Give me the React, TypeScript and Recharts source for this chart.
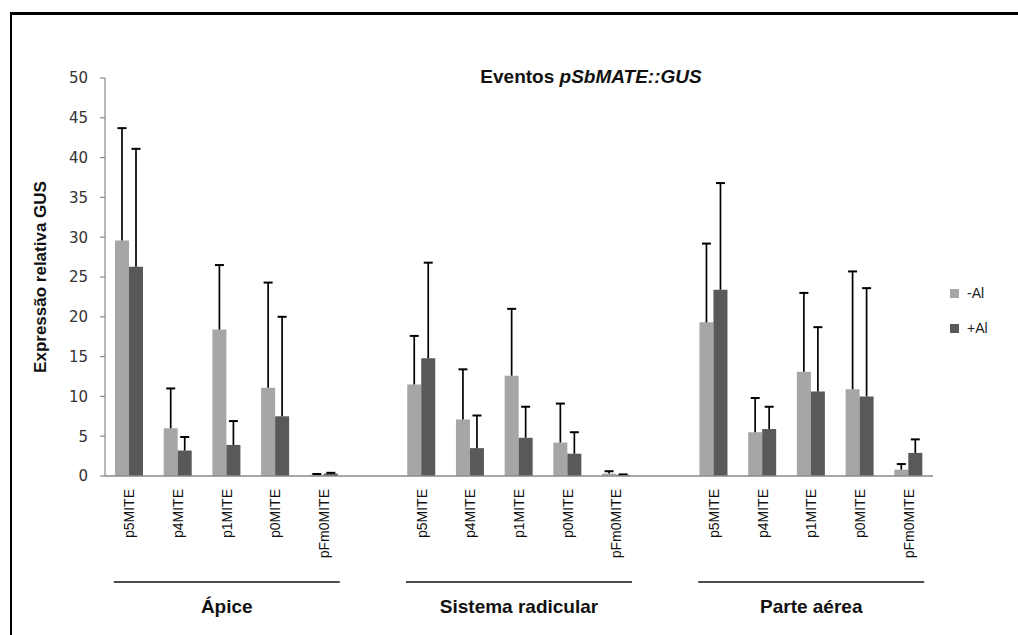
import React from 'react';
import { BarChart, Bar, XAxis, YAxis, Legend } from 'recharts';

// Promoter events and tissues
const events = ['p5MITE', 'p4MITE', 'p1MITE', 'p0MITE', 'pFm0MITE'];
const tissues = ['Ápice', 'Sistema radicular', 'Parte aérea'];

// Relative GUS expression, tissue by tissue (events in the order above)
const minusAl = [29.6, 6.0, 18.4, 11.1, 0.15, 11.5, 7.1, 12.6, 4.2, 0.3, 19.3, 5.5, 13.1, 10.9, 0.8];
const minusAlErr = [14.1, 5.0, 8.1, 13.2, 0.1, 6.1, 6.3, 8.4, 4.9, 0.3, 9.9, 4.3, 9.9, 14.8, 0.7];
const plusAl = [26.3, 3.2, 3.9, 7.5, 0.3, 14.8, 3.5, 4.8, 2.8, 0.15, 23.4, 5.9, 10.6, 10.0, 2.9];
const plusAlErr = [14.8, 1.7, 3.0, 12.5, 0.1, 12.0, 4.1, 3.9, 2.7, 0.05, 13.4, 2.8, 8.1, 13.6, 1.7];

const yTicks = [0, 5, 10, 15, 20, 25, 30, 35, 40, 45, 50];

type Row = {
  key: string;
  label: string;
  groupTitle: string;
  minus: number | null;
  minusErr: number | null;
  plus: number | null;
  plusErr: number | null;
};

// One row per event, with an empty row between tissues
const rows: Row[] = [];
tissues.forEach((tissue, t) => {
  if (t > 0) {
    rows.push({ key: `gap${t}`, label: '', groupTitle: '', minus: null, minusErr: null, plus: null, plusErr: null });
  }
  events.forEach((ev, e) => {
    const i = t * events.length + e;
    rows.push({
      key: `${tissue}|${ev}`,
      label: ev,
      groupTitle: e === 2 ? tissue : '',
      minus: minusAl[i],
      minusErr: minusAlErr[i],
      plus: plusAl[i],
      plusErr: plusAlErr[i],
    });
  });
});

const FONT = 'Liberation Sans, Arial, sans-serif';

// Upper error whisker drawn on top of the stacked error segment
const Whisker = (props: any) => {
  const { x, y, width, height, payload, dataKey } = props;
  if (!payload || payload[dataKey] == null || !isFinite(y) || !isFinite(height)) return null;
  const cx = x + width / 2;
  return (
    <g>
      <line x1={cx} y1={y} x2={cx} y2={y + height} stroke="#000" strokeWidth={1.7} />
      <line x1={cx - 4.5} y1={y} x2={cx + 4.5} y2={y} stroke="#000" strokeWidth={2} />
    </g>
  );
};

const CategoryTick = (props: any) => {
  const { x, y, payload } = props;
  const row = rows[payload.index];
  if (!row || !row.label) return null;
  return (
    <g>
      <text
        x={x}
        y={y + 13}
        transform={`rotate(-90, ${x}, ${y + 13})`}
        textAnchor="end"
        dominantBaseline="central"
        fontFamily={FONT}
        fontSize={14}
        fill="#111"
      >
        {row.label}
      </text>
      {row.groupTitle ? (
        <g>
          <line x1={x - 113} y1={y + 106} x2={x + 113} y2={y + 106} stroke="#111" strokeWidth={1.5} />
          <text
            x={x}
            y={y + 137}
            textAnchor="middle"
            fontFamily={FONT}
            fontWeight="bold"
            fontSize={19}
            fill="#111"
          >
            {row.groupTitle}
          </text>
        </g>
      ) : null}
    </g>
  );
};

const LegendContent = () => (
  <div style={{ fontFamily: FONT, fontSize: 14, color: '#222' }}>
    {[
      { name: '-Al', color: '#a6a6a6' },
      { name: '+Al', color: '#595959' },
    ].map((it, i) => (
      <div key={it.name} style={{ display: 'flex', alignItems: 'center', height: 20, marginTop: i === 0 ? 0 : 15 }}>
        <span style={{ display: 'inline-block', width: 9, height: 9, background: it.color, marginRight: 8 }} />
        <span>{it.name}</span>
      </div>
    ))}
  </div>
);

export default function App() {
  return (
    <div style={{ position: 'absolute', left: 0, top: 0, width: 1018, height: 635, background: '#fff', overflow: 'hidden' }}>
      <div
        style={{
          position: 'absolute',
          left: 10,
          top: 12,
          right: -10,
          bottom: -10,
          borderLeft: '2px solid #000',
          borderTop: '3px solid #000',
        }}
      />
      <div
        style={{
          position: 'absolute',
          left: 391,
          width: 400,
          top: 66,
          textAlign: 'center',
          fontFamily: FONT,
          fontWeight: 'bold',
          fontSize: 19,
          color: '#111',
        }}
      >
        Eventos <i>pSbMATE::GUS</i>
      </div>
      <BarChart
        width={1018}
        height={635}
        data={rows}
        margin={{ top: 78, right: 85, bottom: 129, left: 0 }}
        barSize={14}
        barGap={0}
        style={{ position: 'absolute', left: 0, top: 0 }}
      >
        <XAxis
          dataKey="key"
          height={30}
          interval={0}
          tickLine={false}
          tickSize={0}
          tickMargin={0}
          stroke="#8a8a8a"
          strokeWidth={1.5}
          tick={<CategoryTick />}
        />
        <YAxis
          width={105}
          domain={[0, 50]}
          ticks={yTicks}
          interval={0}
          tickSize={5}
          tickMargin={12}
          stroke="#8a8a8a"
          strokeWidth={1.2}
          tick={{ fontFamily: 'DejaVu Sans, Verdana, sans-serif', fontSize: 15, fill: '#333' }}
          label={{
            value: 'Expressão relativa GUS',
            position: 'insideLeft',
            content: (p: any) => {
              const vb = p.viewBox || {};
              const cy = (vb.y || 0) + (vb.height || 0) / 2;
              return (
                <text
                  x={40}
                  y={cy}
                  transform={`rotate(-90, 40, ${cy})`}
                  textAnchor="middle"
                  dominantBaseline="central"
                  fontFamily={FONT}
                  fontWeight="bold"
                  fontSize={17}
                  fill="#111"
                >
                  Expressão relativa GUS
                </text>
              );
            },
          }}
        />
        <Legend
          layout="vertical"
          align="center"
          verticalAlign="middle"
          content={<LegendContent />}
          wrapperStyle={{ left: 950, top: 283, width: 68 }}
        />
        <Bar dataKey="minus" name="-Al" stackId="m" fill="#a6a6a6" isAnimationActive={false} />
        <Bar dataKey="minusErr" stackId="m" legendType="none" shape={<Whisker />} isAnimationActive={false} />
        <Bar dataKey="plus" name="+Al" stackId="p" fill="#595959" isAnimationActive={false} />
        <Bar dataKey="plusErr" stackId="p" legendType="none" shape={<Whisker />} isAnimationActive={false} />
      </BarChart>
    </div>
  );
}
